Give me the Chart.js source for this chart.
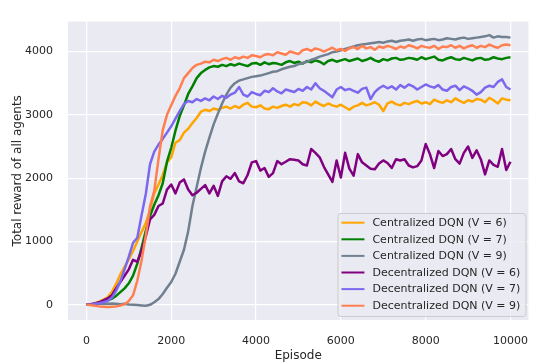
<!DOCTYPE html>
<html>
<head>
<meta charset="utf-8">
<script src="https://cdn.jsdelivr.net/npm/chart.js@4.4.1/dist/chart.umd.min.js"></script>
<style>
    html, body { margin: 0; padding: 0; background: #ffffff; }
    #wrap { width: 543px; height: 363px; }
</style>
</head>
<body>
<div id="wrap"><canvas id="rewardChart" width="543" height="363"></canvas></div>
<script>
// episode grid (every 100 episodes)
const episodes = [
    0, 100, 200, 300, 400, 500, 600, 700, 800, 900,
    1000, 1100, 1200, 1300, 1400, 1500, 1600, 1700, 1800, 1900,
    2000, 2100, 2200, 2300, 2400, 2500, 2600, 2700, 2800, 2900,
    3000, 3100, 3200, 3300, 3400, 3500, 3600, 3700, 3800, 3900,
    4000, 4100, 4200, 4300, 4400, 4500, 4600, 4700, 4800, 4900,
    5000, 5100, 5200, 5300, 5400, 5500, 5600, 5700, 5800, 5900,
    6000, 6100, 6200, 6300, 6400, 6500, 6600, 6700, 6800, 6900,
    7000, 7100, 7200, 7300, 7400, 7500, 7600, 7700, 7800, 7900,
    8000, 8100, 8200, 8300, 8400, 8500, 8600, 8700, 8800, 8900,
    9000, 9100, 9200, 9300, 9400, 9500, 9600, 9700, 9800, 9900,
    10000
];

const centralizedV6 = [
    0, 10, 25, 50, 80, 120, 200, 330, 480, 600,
    720, 850, 1000, 1150, 1290, 1500, 1760, 1900, 2050, 2250,
    2330, 2560, 2600, 2720, 2780, 2870, 2950, 3050, 3080, 3060,
    3100, 3080, 3110, 3130, 3100, 3140, 3110, 3160, 3190, 3130,
    3120, 3150, 3100, 3090, 3130, 3110, 3140, 3160, 3130, 3170,
    3150, 3200, 3190, 3150, 3210, 3170, 3140, 3180, 3150, 3130,
    3160, 3120, 3080, 3130, 3150, 3190, 3150, 3170, 3200, 3160,
    3060, 3180, 3210, 3170, 3150, 3190, 3170, 3200, 3220, 3180,
    3200, 3170, 3240, 3210, 3190, 3230, 3200, 3260, 3220, 3190,
    3230, 3210, 3250, 3240, 3200, 3270, 3230, 3180, 3260, 3240,
    3230
];

const centralizedV7 = [
    0, 5, 15, 30, 50, 75, 95, 140, 200, 260,
    340, 460, 650, 900, 1170, 1400, 1580, 1730, 1920, 2260,
    2480, 2750, 2980, 3150, 3330, 3450, 3580, 3660, 3710, 3750,
    3770, 3760, 3790, 3770, 3800, 3780, 3810, 3790, 3770, 3810,
    3820, 3790, 3830, 3800, 3820, 3810, 3790, 3830, 3850, 3820,
    3840, 3810, 3850, 3830, 3860, 3840, 3800, 3850, 3870, 3840,
    3860, 3880, 3850, 3870, 3890, 3850, 3870, 3900, 3860, 3840,
    3880, 3860, 3890, 3900, 3870, 3880, 3900, 3890, 3870, 3910,
    3880, 3900, 3920, 3870, 3860, 3890, 3910, 3880, 3870, 3900,
    3880, 3860, 3890, 3900, 3870, 3880, 3910, 3890, 3880, 3900,
    3910
];

const centralizedV9 = [
    0, 5, 10, 15, 20, 15, 20, 15, 10, 15,
    5, 0, -5, -10, -15, 0, 40, 90, 170, 270,
    360, 490, 680, 870, 1160, 1560, 1860, 2160, 2420, 2640,
    2850, 3020, 3180, 3320, 3430, 3500, 3540, 3560, 3580, 3600,
    3610, 3620, 3640, 3660, 3680, 3690, 3720, 3740, 3760, 3770,
    3800, 3820, 3840, 3870, 3890, 3920, 3940, 3960, 3990, 4000,
    4020, 4040, 4060, 4080, 4100, 4110, 4120, 4130, 4140, 4150,
    4140, 4160, 4170, 4150, 4170, 4180, 4190, 4170, 4190, 4200,
    4180, 4190, 4200, 4180, 4190, 4210, 4200, 4190, 4210, 4220,
    4200, 4210, 4220, 4230, 4240, 4260, 4220, 4240, 4230, 4230,
    4220
];

const decentralizedV6 = [
    0, 10, 20, 40, 70, 100, 150, 260, 360, 460,
    560, 710, 680, 850, 1080, 1350, 1420, 1560, 1600, 1820,
    1900, 1760, 1930, 1980, 1820, 1730, 1770, 1830, 1890, 1760,
    1880, 1720, 1950, 2030, 1990, 2080, 1950, 1920, 2050, 2250,
    2270, 2120, 2160, 2020, 2080, 2270, 2220, 2260, 2300, 2290,
    2280, 2220, 2200, 2460, 2400, 2330, 2180, 2060, 1940, 2280,
    2010, 2400, 2150, 2040, 2380, 2250, 2200, 2150, 2140, 2230,
    2280, 2240, 2160, 2300, 2280, 2300, 2200, 2170, 2190, 2280,
    2540, 2380, 2160, 2430, 2350, 2380, 2460, 2300, 2230, 2400,
    2500, 2320, 2440, 2300, 2060, 2280, 2210, 2180, 2460, 2130,
    2260
];

const decentralizedV7 = [
    0, 5, 15, 25, 40, 60, 110, 220, 370, 560,
    760, 980, 1060, 1410, 1750, 2220, 2420, 2530, 2620, 2720,
    2820, 2940, 3060, 3170, 3220, 3200, 3250, 3220, 3260, 3230,
    3290, 3250, 3300, 3270, 3320, 3350, 3440, 3320, 3290, 3360,
    3330, 3310, 3380, 3360, 3420, 3370, 3340, 3400, 3380, 3360,
    3410, 3380, 3440, 3400, 3500, 3420, 3380, 3330, 3280, 3400,
    3440, 3390, 3410, 3380, 3350, 3410, 3430, 3250, 3360, 3420,
    3460, 3420, 3450, 3400, 3470, 3430, 3480, 3450, 3400, 3440,
    3480, 3450, 3430, 3470, 3400, 3380, 3440, 3460, 3390, 3450,
    3420, 3380, 3320, 3360, 3430, 3460, 3440, 3520, 3560, 3440,
    3400
];

const decentralizedV9 = [
    0, -5, -15, -25, -30, -35, -30, -25, -10, 10,
    60, 150, 380, 700, 1090, 1550, 1800, 2300, 2760, 3000,
    3150, 3300, 3420, 3580, 3660, 3740, 3790, 3810, 3840, 3830,
    3870, 3850, 3880, 3900, 3870, 3910, 3890, 3920, 3900, 3940,
    3930, 3910, 3950, 3960, 3940, 3990, 3970, 3950, 4000, 3980,
    3960, 4020, 4040, 4010, 4050, 4030, 4000, 4030, 4060, 4020,
    4040, 4010, 4050, 4070, 4040, 4090, 4050, 4070, 4030, 4080,
    4060, 4090, 4070, 4040, 4080, 4060, 4100, 4080, 4050, 4090,
    4070, 4060, 4090, 4040, 4080, 4070, 4100, 4060, 4090, 4050,
    4080, 4100, 4060, 4090, 4070, 4110, 4080, 4060, 4100, 4110,
    4100
];

const seriesLabels = [
    "Centralized DQN (V = 6)",
    "Centralized DQN (V = 7)",
    "Centralized DQN (V = 9)",
    "Decentralized DQN (V = 6)",
    "Decentralized DQN (V = 7)",
    "Decentralized DQN (V = 9)"
];
const seriesValues = [centralizedV6, centralizedV7, centralizedV9, decentralizedV6, decentralizedV7, decentralizedV9];
const seriesColors = ["#ffa500", "#008000", "#708090", "#800080", "#7b68ee", "#ff7f50"];

const xTicks = [0, 2000, 4000, 6000, 8000, 10000];
const yTicks = [0, 1000, 2000, 3000, 4000];

const textColor = "#262626";
const fontFamily = "'DejaVu Sans', sans-serif";

// seaborn-like panel behind the grid
const panelBackground = {
    id: "panelBackground",
    beforeDraw(chart) {
        const { ctx, chartArea: a } = chart;
        ctx.save();
        ctx.fillStyle = "#eaeaf2";
        ctx.fillRect(a.left, a.top, a.right - a.left, a.bottom - a.top);
        ctx.restore();
    },
};

// legend box in the lower right of the plot
const innerLegend = {
    id: "innerLegend",
    afterDraw(chart) {
        const { ctx, chartArea: a } = chart;
        const w = 188, rowH = 16.6, h = 103;
        const x0 = a.right - w - 3, y0 = a.bottom - h - 4;
        ctx.save();
        ctx.beginPath();
        ctx.roundRect(x0 + 0.5, y0 + 0.5, w, h, 3);
        ctx.fillStyle = "rgba(234, 234, 242, 0.8)";
        ctx.fill();
        ctx.strokeStyle = "#cccccc";
        ctx.lineWidth = 1;
        ctx.stroke();
        ctx.font = "11px " + fontFamily;
        ctx.textBaseline = "middle";
        ctx.fillStyle = textColor;
        chart.data.datasets.forEach((ds, i) => {
            const cy = y0 + 9.7 + i * rowH;
            ctx.beginPath();
            ctx.moveTo(x0 + 4, cy);
            ctx.lineTo(x0 + 27, cy);
            ctx.strokeStyle = ds.borderColor;
            ctx.lineWidth = 2;
            ctx.stroke();
            ctx.fillText(ds.label, x0 + 35, cy + 0.5);
        });
        ctx.restore();
    },
};

new Chart(document.getElementById("rewardChart"), {
    type: "line",
    data: {
        datasets: seriesLabels.map((label, i) => ({
            label: label,
            data: episodes.map((ep, j) => ({ x: ep, y: seriesValues[i][j] })),
            borderColor: seriesColors[i],
            backgroundColor: seriesColors[i],
            borderWidth: 2.5,
            borderJoinStyle: "round",
            pointRadius: 0,
            tension: 0,
            fill: false,
            order: seriesLabels.length - i,
        })),
    },
    options: {
        responsive: false,
        animation: false,
        layout: { padding: { top: 12, right: 0, left: 0, bottom: 0 } },
        scales: {
            x: {
                type: "linear",
                min: -434,
                max: 10423,
                afterBuildTicks: (s) => { s.ticks = xTicks.map((v) => ({ value: v })); },
                afterFit: (s) => { s.height = 43; },
                grid: { color: "#ffffff", lineWidth: 1.2, drawTicks: false },
                border: { display: false },
                ticks: {
                    padding: 15,
                    color: textColor,
                    font: { family: fontFamily, size: 11 },
                    maxRotation: 0,
                    callback: (v) => String(v),
                },
                title: {
                    display: true,
                    text: "Episode",
                    color: textColor,
                    font: { family: fontFamily, size: 12 },
                    padding: { top: 0, bottom: 0 },
                },
            },
            y: {
                min: -240,
                max: 4473,
                afterBuildTicks: (s) => { s.ticks = yTicks.map((v) => ({ value: v })); },
                afterFit: (s) => { s.width = 68; },
                grid: { color: "#ffffff", lineWidth: 1.2, drawTicks: false },
                border: { display: false },
                ticks: {
                    padding: 15,
                    color: textColor,
                    font: { family: fontFamily, size: 11 },
                    callback: (v) => String(v),
                },
                title: {
                    display: true,
                    text: "Total reward of all agents",
                    color: textColor,
                    font: { family: fontFamily, size: 12 },
                    padding: { top: 11, bottom: 0 },
                },
            },
        },
        plugins: {
            legend: { display: false },
            tooltip: { enabled: false },
        },
    },
    plugins: [panelBackground, innerLegend],
});
</script>
</body>
</html>
